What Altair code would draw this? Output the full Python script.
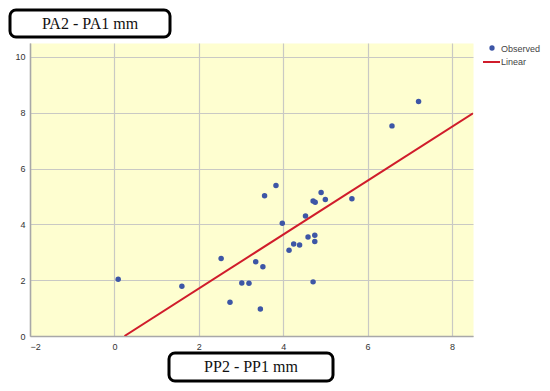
import altair as alt
import pandas as pd

# Observed points (PP2 - PP1 mm, PA2 - PA1 mm)
obs_x = [0.09, 1.60, 2.53, 2.74, 3.02, 3.19, 3.35, 3.52, 3.46, 3.56, 3.83,
         3.98, 4.14, 4.25, 4.39, 4.53, 4.59, 4.75, 4.75, 4.71, 4.71, 4.76,
         4.90, 5.00, 5.63, 6.58, 7.21]
obs_y = [2.03, 1.78, 2.78, 1.21, 1.90, 1.89, 2.66, 2.48, 0.97, 5.03, 5.39,
         4.04, 3.07, 3.30, 3.26, 4.30, 3.55, 3.61, 3.39, 1.94, 4.84, 4.79,
         5.14, 4.89, 4.92, 7.53, 8.40]

# Linear fit line
fit_x = [0.24, 8.5]
fit_y = [0.0, 7.98]

x_ticks = [-2, 0, 2, 4, 6, 8]
y_ticks = [0, 2, 4, 6, 8, 10]

y_title = "PA2 - PA1 mm"
x_title = "PP2 - PP1 mm"
legend_labels = ["Observed", "Linear"]

obs = pd.DataFrame({"x": obs_x, "y": obs_y})
fit = pd.DataFrame({"x": fit_x, "y": fit_y})
dummy = pd.DataFrame({"a": [0]})

W, H = 443, 293

xs = alt.Scale(domain=[-2, 8.5], nice=False, zero=False)
ys = alt.Scale(domain=[0, 10.5], nice=False, zero=False)

axis_common = dict(
    grid=True, gridColor="#c9c9c4", gridWidth=1.2,
    domainColor="#a8a8a8", domainWidth=1.5,
    ticks=False, labelFont="Liberation Sans", labelFontSize=9,
    labelColor="#333333", title=None,
)

points = alt.Chart(obs).mark_circle(size=30, color="#3d56a6", opacity=1).encode(
    x=alt.X("x:Q", scale=xs, axis=alt.Axis(values=x_ticks, labelPadding=6, **axis_common)),
    y=alt.Y("y:Q", scale=ys, axis=alt.Axis(values=y_ticks, labelPadding=5, **axis_common)),
)

line = alt.Chart(fit).mark_line(color="#d01c2b", strokeWidth=2, clip=True).encode(
    x=alt.X("x:Q", scale=xs), y=alt.Y("y:Q", scale=ys)
)

def box(x0, x1, y0, y1, label, tx, ty):
    r = alt.Chart(dummy).mark_rect(
        fill="white", stroke="black", strokeWidth=3, cornerRadius=6, clip=False
    ).encode(x=alt.value(x0), x2=alt.value(x1), y=alt.value(y0), y2=alt.value(y1))
    t = alt.Chart(dummy).mark_text(
        font="Liberation Serif", fontSize=16, color="#111111",
        align="center", baseline="middle", clip=False
    ).encode(x=alt.value(tx), y=alt.value(ty), text=alt.value(label))
    return r + t

box1 = box(-20, 140, -33, -6, y_title, 60, -19)
box2 = box(139, 303, 310, 338, x_title, 221, 324)

leg_pt = alt.Chart(dummy).mark_circle(size=28, color="#3d56a6", opacity=1, clip=False).encode(
    x=alt.value(462), y=alt.value(5)
)
leg_line = alt.Chart(dummy).mark_rule(color="#d01c2b", strokeWidth=2, clip=False).encode(
    x=alt.value(453), x2=alt.value(470), y=alt.value(19)
)
leg_text = alt.Chart(pd.DataFrame({"lab": legend_labels, "xx": [471, 471], "yy": [6, 19]})).mark_text(
    font="Liberation Sans", fontSize=9, color="#444444", align="left", baseline="middle", clip=False
).encode(x=alt.X("xx:Q", scale=None), y=alt.Y("yy:Q", scale=None), text="lab:N")

chart = alt.layer(points, line, box1, box2, leg_pt, leg_line, leg_text).properties(
    width=W, height=H,
    padding={"left": 22, "top": 35, "right": 69, "bottom": 47},
    autosize=alt.AutoSizeParams(type="none"),
    background="white",
).configure_view(fill="#fefed0", stroke="transparent")

chart.save("out.html", embed_options={"renderer": "svg", "actions": False})
